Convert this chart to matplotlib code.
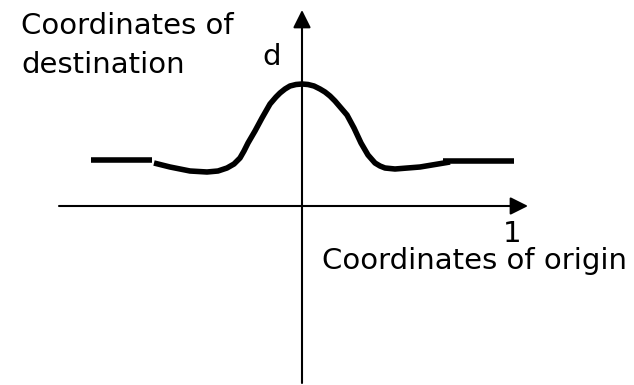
import matplotlib
matplotlib.use("Agg")
import matplotlib.pyplot as plt

# Curve (x relative to vertical axis, y relative to horizontal axis), in pixel-like units
curve_x = [-148, -132, -112, -95, -84, -75, -68, -62, -58, -54, -47, -40, -32, -26, -22, -17, -12, -6, 0,
           6, 12, 18, 23, 28, 33, 39, 45, 52, 59, 66, 73, 78, 83, 93, 118, 148]
curve_y = [43, 39, 35, 34, 35, 38, 42, 48, 55, 63, 75, 88, 102, 109, 113, 117, 120, 121.5, 122,
           121.5, 120, 117, 114, 110, 105, 98, 91, 78, 63, 51, 43, 40, 38, 37, 39, 44]
left_flat_x = [-211, -150]
left_flat_y = [46, 46]
right_flat_x = [141, 212]
right_flat_y = [45, 45]

xaxis_range = [-243, 226]
yaxis_range = [-177, 196]

labels = {
    "ytitle1": ("Coordinates of", -281, 172),
    "ytitle2": ("destination", -281, 133),
    "d": ("d", -40, 141),
    "one": ("1", 201, -36),
    "xtitle": ("Coordinates of origin", 20, -63),
}

fig = plt.figure(figsize=(6.34, 3.85), dpi=100)
ax = fig.add_axes([0, 0, 1, 1])
ax.set_xlim(-302, 332)
ax.set_ylim(-179, 206)
ax.axis("off")

arrow_kw = dict(arrowstyle="-|>,head_length=0.6,head_width=0.3", color="black",
                lw=1.5, shrinkA=0, shrinkB=0, mutation_scale=18)
ax.annotate("", xy=(xaxis_range[1], 0), xytext=(xaxis_range[0], 0), arrowprops=arrow_kw)
ax.annotate("", xy=(0, yaxis_range[1]), xytext=(0, yaxis_range[0]), arrowprops=arrow_kw)

lw = 4.0
ax.plot(curve_x, curve_y, color="black", lw=lw, solid_joinstyle="round", solid_capstyle="butt")
ax.plot(left_flat_x, left_flat_y, color="black", lw=lw, solid_capstyle="butt")
ax.plot(right_flat_x, right_flat_y, color="black", lw=lw, solid_capstyle="butt")

for key, (txt, x, y) in labels.items():
    ax.text(x, y, txt, fontsize=21, family="DejaVu Sans", ha="left", va="baseline", color="black")

fig.savefig("out.png", dpi=100)
